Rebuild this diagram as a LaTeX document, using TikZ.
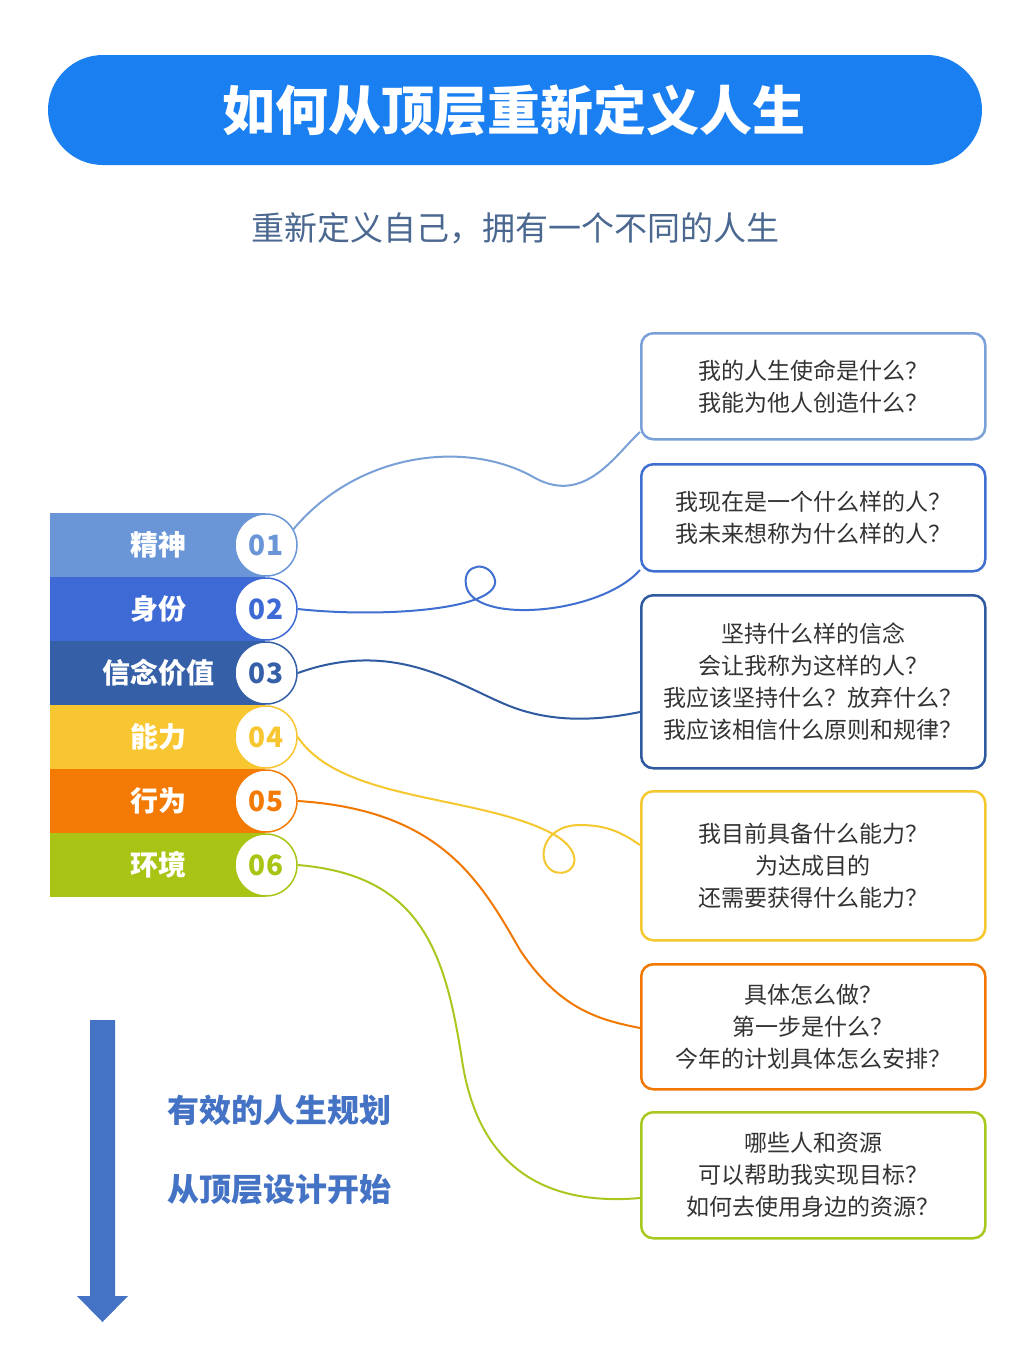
\documentclass[tikz,border=0pt]{standalone}
\usepackage{fontspec}
\setmainfont{Noto Sans CJK SC}
\definecolor{c1}{HTML}{6A96D8}\definecolor{c2}{HTML}{3E6AD6}\definecolor{c3}{HTML}{3560A8}
\definecolor{c4}{HTML}{F8C630}\definecolor{c5}{HTML}{F27A05}\definecolor{c6}{HTML}{A9C414}
\definecolor{k1}{HTML}{7AA0D8}\definecolor{k2}{HTML}{3F6FD0}\definecolor{k3}{HTML}{2F5AA0}
\definecolor{k4}{HTML}{F5C830}\definecolor{k5}{HTML}{F07800}\definecolor{k6}{HTML}{A8C820}
\definecolor{titlec}{HTML}{1A7FF0}\definecolor{subc}{HTML}{4A6890}\definecolor{arrc}{HTML}{4472C4}
\definecolor{txt}{HTML}{333333}
\begin{document}
\begin{tikzpicture}[x=1pt,y=-1pt,
  qbox/.style={draw,line width=2.5pt,rounded corners=12pt,minimum width=344pt,inner sep=0pt,anchor=north west,fill=white,text=txt,font=\fontsize{23}{32}\selectfont,align=center},
  num/.style={circle,draw,line width=1.5pt,fill=white,minimum size=62pt,inner sep=0pt,font=\fontsize{28}{28}\selectfont\bfseries},
  lab/.style={text=white,font=\fontsize{28}{28}\selectfont\bfseries},
  conn/.style={line width=2pt}]
\useasboundingbox (0,0) rectangle (1036,1358);
\fill[white] (0,0) rectangle (1036,1358);
% title
\node[fill=titlec,rounded corners=55pt,minimum width=934pt,minimum height=110pt] (title) at (515,110) {};
\node[text=white,font=\fontsize{53}{53}\selectfont\bfseries] (tt) at (514,110) {如何从顶层重新定义人生};
\node[text=subc,font=\fontsize{33}{33}\selectfont] (sub) at (515,228) {重新定义自己，拥有一个不同的人生};
% bars
\foreach \i/\c/\t in {1/c1/精神,2/c2/身份,3/c3/信念价值,4/c4/能力,5/c5/行为,6/c6/环境}{
  \fill[\c] (50,{513+(\i-1)*64}) rectangle (265,{513+\i*64});
  \node[lab] (l\i) at (158,{545+(\i-1)*64}) {\t};
}
\foreach \i/\c in {1/c1,2/c2,3/c3,4/c4,5/c5,6/c6}{
  \node[num,draw=\c,text=\c] (n\i) at (266,{545+(\i-1)*64}) {0\i};
}
% boxes
\node[qbox,draw=k1,minimum height=106pt] (b1) at (640,332) {我的人生使命是什么？\\我能为他人创造什么？};
\node[qbox,draw=k2,minimum height=107pt] (b2) at (640,463) {我现在是一个什么样的人？\\我未来想称为什么样的人？};
\node[qbox,draw=k3,minimum height=173pt] (b3) at (640,594) {坚持什么样的信念\\会让我称为这样的人？\\我应该坚持什么？放弃什么？\\我应该相信什么原则和规律？};
\node[qbox,draw=k4,minimum height=149pt] (b4) at (640,790) {我目前具备什么能力？\\为达成目的\\还需要获得什么能力？};
\node[qbox,draw=k5,minimum height=125pt] (b5) at (640,963) {具体怎么做？\\第一步是什么？\\今年的计划具体怎么安排？};
\node[qbox,draw=k6,minimum height=126pt] (b6) at (640,1111) {哪些人和资源\\可以帮助我实现目标？\\如何去使用身边的资源？};
% connectors
\coordinate (e1) at (640,432);
\draw[conn,k1] (n1.30) .. controls (360,450) and (470,440) .. (535,478) .. controls (585,505) and (615,455) .. (e1);
\coordinate (e2) at (640,570);
\draw[conn,k2] (n2.east) .. controls (380,618) and (500,610) .. (495,580) .. controls (490,560) and (462,563) .. (466,585) .. controls (472,625) and (600,615) .. (e2);
\coordinate (e3) at (640,712);
\draw[conn,k3] (n3.east) .. controls (390,640) and (450,680) .. (500,702) .. controls (550,725) and (600,720) .. (e3);
\coordinate (e4) at (640,845);
\draw[conn,k4] (n4.east) .. controls (340,800) and (470,795) .. (545,830) .. controls (590,850) and (575,878) .. (555,872) .. controls (535,865) and (540,825) .. (580,825) .. controls (610,825) and (625,835) .. (e4);
\coordinate (e5) at (640,1028);
\draw[conn,k5] (n5.east) .. controls (440,810) and (480,880) .. (520,950) .. controls (560,1010) and (600,1020) .. (e5);
\coordinate (e6) at (640,1198);
\draw[conn,k6] (n6.east) .. controls (420,875) and (445,950) .. (462,1060) .. controls (480,1180) and (560,1205) .. (e6);
% arrow
\fill[arrc] (90,1020) -- (115,1020) -- (115,1296) -- (128,1296) -- (102.5,1322) -- (77,1296) -- (90,1296) -- cycle;
\node[text=arrc,font=\fontsize{32}{32}\selectfont\bfseries] (s1) at (279,1110) {有效的人生规划};
\node[text=arrc,font=\fontsize{32}{32}\selectfont\bfseries] (s2) at (279,1190) {从顶层设计开始};
\end{tikzpicture}
\end{document}
